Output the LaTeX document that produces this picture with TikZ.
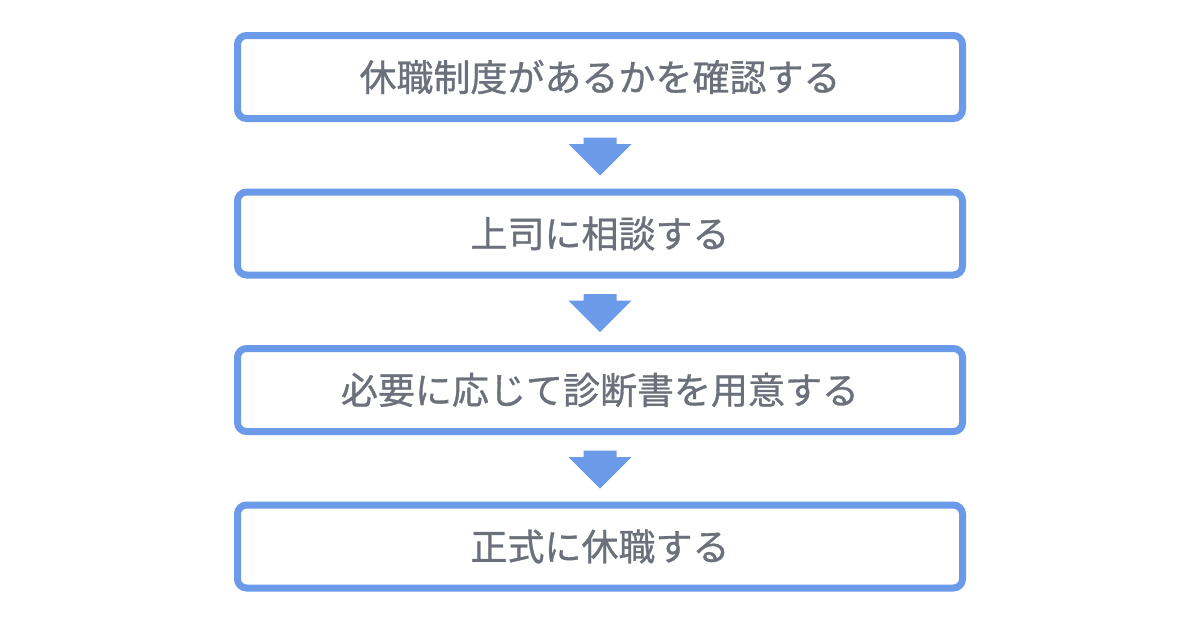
\documentclass[tikz,border=0pt]{standalone}
\usepackage{fontspec}
\newfontfamily\jpfont[FakeBold=0.8]{Noto Sans CJK JP}
\definecolor{boxblue}{HTML}{6B9BE8}
\definecolor{txtgray}{HTML}{6B707B}
\begin{document}
\begin{tikzpicture}[x=1pt,y=-1pt,
  stepbox/.style={draw=boxblue,line width=7pt,rounded corners=9pt,fill=white,
    minimum width=725pt,minimum height=83pt,inner sep=0pt,anchor=north,
    font=\jpfont\fontsize{37}{43}\selectfont,text=txtgray},
  blockarrow/.style={fill=boxblue,draw=none}]
\useasboundingbox (0,0) rectangle (1200,630);
\fill[white] (0,0) rectangle (1200,630);
\node[stepbox] (s1) at (600,32) {休職制度があるかを確認する};
\node[stepbox] (s2) at (600,188.5) {上司に相談する};
\node[stepbox] (s3) at (600,345) {必要に応じて診断書を用意する};
\node[stepbox] (s4) at (600,501.5) {正式に休職する};
\foreach \a/\b in {s1/s2,s2/s3,s3/s4}{
  \path ([yshift=-15.5pt]\a.south) coordinate (top);
  \fill[blockarrow] ([xshift=-16.5pt]top) -- ([xshift=16.5pt]top)
    -- ([xshift=16.5pt,yshift=-6.5pt]top) -- ([xshift=31.5pt,yshift=-6.5pt]top)
    -- ([yshift=-38pt]top) -- ([xshift=-31.5pt,yshift=-6.5pt]top)
    -- ([xshift=-16.5pt,yshift=-6.5pt]top) -- cycle;
}
\end{tikzpicture}
\end{document}
